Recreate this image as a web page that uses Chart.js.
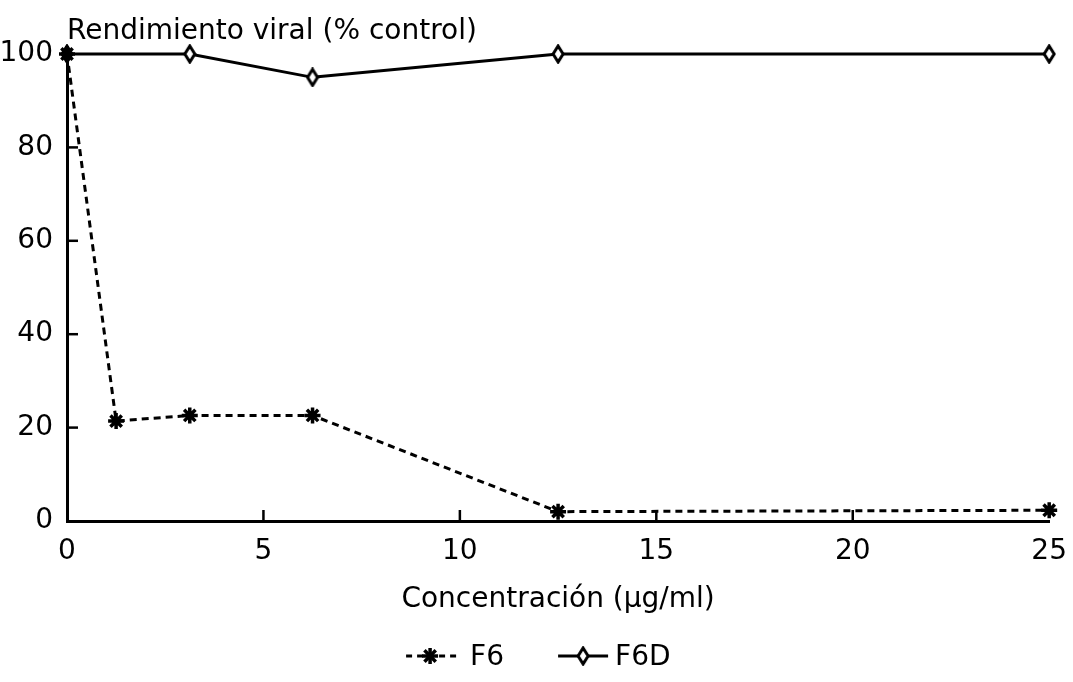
<!DOCTYPE html>
<html>
<head>
<meta charset="utf-8">
<script src="https://cdn.jsdelivr.net/npm/chart.js@4.4.1/dist/chart.umd.min.js"></script>
<style>
  html, body { margin: 0; padding: 0; background: #fff; }
  #wrap { width: 1073px; height: 682px; position: relative; }
</style>
</head>
<body>
<div id="wrap"><canvas id="myChart"></canvas></div>
<script>
(function () {
    "use strict";

    // concentrations (µg/ml)
    var concF6 = [0, 1.25, 3.125, 6.25, 12.5, 25];
    var yieldF6 = [100, 21.4, 22.6, 22.6, 2.0, 2.3];

    var concF6D = [0, 3.125, 6.25, 12.5, 25];
    var yieldF6D = [100, 100, 95, 100, 100];

    var xTicks = [0, 5, 10, 15, 20, 25];
    var yTicks = [0, 20, 40, 60, 80, 100];

    var fontFamily = '"DejaVu Sans", Arial, Helvetica, sans-serif';
    var fontSize = 28;

    // narrow diamond marker, like the original
    function makeDiamond() {
        var c = document.createElement('canvas');
        c.width = 14;
        c.height = 20;
        var g = c.getContext('2d');
        g.fillStyle = '#fff';
        g.strokeStyle = '#000';
        g.lineWidth = 3;
        g.beginPath();
        g.moveTo(7, 2);
        g.lineTo(12, 10);
        g.lineTo(7, 18);
        g.lineTo(2, 10);
        g.closePath();
        g.fill();
        g.stroke();
        return c;
    }
    var diamond = makeDiamond();

    function toPoints(xs, ys) {
        return xs.map(function (x, i) { return { x: x, y: ys[i] }; });
    }

    // inward tick marks on both axes
    var innerTicks = {
        id: 'innerTicks',
        afterDatasetsDraw: function (chart) {
            var ctx = chart.ctx;
            var xs = chart.scales.x, ys = chart.scales.y;
            var area = chart.chartArea;
            var len = 11;
            ctx.save();
            ctx.strokeStyle = '#000';
            ctx.lineWidth = 2.5;
            xTicks.slice(1, -1).forEach(function (v) {
                var px = xs.getPixelForValue(v);
                ctx.beginPath();
                ctx.moveTo(px, area.bottom);
                ctx.lineTo(px, area.bottom - len);
                ctx.stroke();
            });
            yTicks.slice(1, -1).forEach(function (v) {
                var py = ys.getPixelForValue(v);
                ctx.beginPath();
                ctx.moveTo(area.left, py);
                ctx.lineTo(area.left + len, py);
                ctx.stroke();
            });

            // y axis title, horizontal above the plot
            ctx.fillStyle = '#000';
            ctx.font = fontSize + 'px ' + fontFamily;
            ctx.textAlign = 'left';
            ctx.textBaseline = 'middle';
            ctx.fillText('Rendimiento viral (% control)', area.left, 32);
            ctx.restore();
        }
    };

    // legend drawn below the axis title
    var bottomLegend = {
        id: 'bottomLegend',
        afterDraw: function (chart) {
            var ctx = chart.ctx;
            var cy = 656;
            var cx = (chart.chartArea.left + chart.chartArea.right) / 2;
            ctx.save();
            ctx.strokeStyle = '#000';
            ctx.fillStyle = '#000';
            ctx.font = fontSize + 'px ' + fontFamily;
            ctx.textBaseline = 'middle';
            ctx.textAlign = 'left';

            // F6
            var x0 = cx - 152;
            ctx.lineWidth = 3;
            ctx.setLineDash([6, 5]);
            ctx.beginPath();
            ctx.moveTo(x0, cy);
            ctx.lineTo(x0 + 55, cy);
            ctx.stroke();
            ctx.setLineDash([]);
            ctx.lineWidth = 3.5;
            var sx = x0 + 24, r = 8;
            for (var a = 0; a < 4; a++) {
                var ang = a * Math.PI / 4;
                ctx.beginPath();
                ctx.moveTo(sx - r * Math.cos(ang), cy - r * Math.sin(ang));
                ctx.lineTo(sx + r * Math.cos(ang), cy + r * Math.sin(ang));
                ctx.stroke();
            }
            ctx.fillText('F6', x0 + 64, cy + 2);

            // F6D
            var x1 = cx;
            ctx.lineWidth = 3;
            ctx.beginPath();
            ctx.moveTo(x1, cy);
            ctx.lineTo(x1 + 50, cy);
            ctx.stroke();
            ctx.drawImage(diamond, x1 + 25 - 7, cy - 10);
            ctx.fillText('F6D', x1 + 57, cy + 2);
            ctx.restore();
        }
    };

    var ctx = document.getElementById('myChart').getContext('2d');

    var myChart = new Chart(ctx, {
        type: 'line',
        data: {
            datasets: [{
                label: 'F6',
                data: toPoints(concF6, yieldF6),
                borderColor: '#000',
                backgroundColor: '#000',
                borderWidth: 3,
                borderDash: [7, 5],
                pointStyle: 'star',
                pointRadius: 8,
                pointBorderWidth: 3.5,
                clip: false,
                tension: 0
            }, {
                label: 'F6D',
                data: toPoints(concF6D, yieldF6D),
                borderColor: '#000',
                backgroundColor: '#fff',
                borderWidth: 3,
                pointStyle: diamond,
                clip: false,
                tension: 0
            }]
        },
        options: {
            responsive: true,
            maintainAspectRatio: false,
            animation: false,
            layout: {
                padding: { top: 54, right: 21, left: 0, bottom: 0 }
            },
            plugins: {
                legend: { display: false },
                tooltip: { enabled: false }
            },
            scales: {
                x: {
                    type: 'linear',
                    min: 0,
                    max: 25,
                    afterFit: function (scale) { scale.height = 161; },
                    grid: { display: false },
                    border: { display: true, color: '#000', width: 3 },
                    ticks: {
                        stepSize: 5,
                        padding: 6,
                        color: '#000',
                        maxRotation: 0,
                        font: { family: fontFamily, size: fontSize }
                    },
                    title: {
                        display: true,
                        text: 'Concentración (µg/ml)',
                        color: '#000',
                        font: { family: fontFamily, size: fontSize },
                        padding: { top: 0, bottom: 65 }
                    }
                },
                y: {
                    min: 0,
                    max: 100,
                    afterFit: function (scale) { scale.width = 67; },
                    grid: { display: false },
                    border: { display: true, color: '#000', width: 3 },
                    ticks: {
                        stepSize: 20,
                        padding: 6,
                        color: '#000',
                        font: { family: fontFamily, size: fontSize }
                    }
                }
            }
        },
        plugins: [innerTicks, bottomLegend]
    });
})();
</script>
</body>
</html>
